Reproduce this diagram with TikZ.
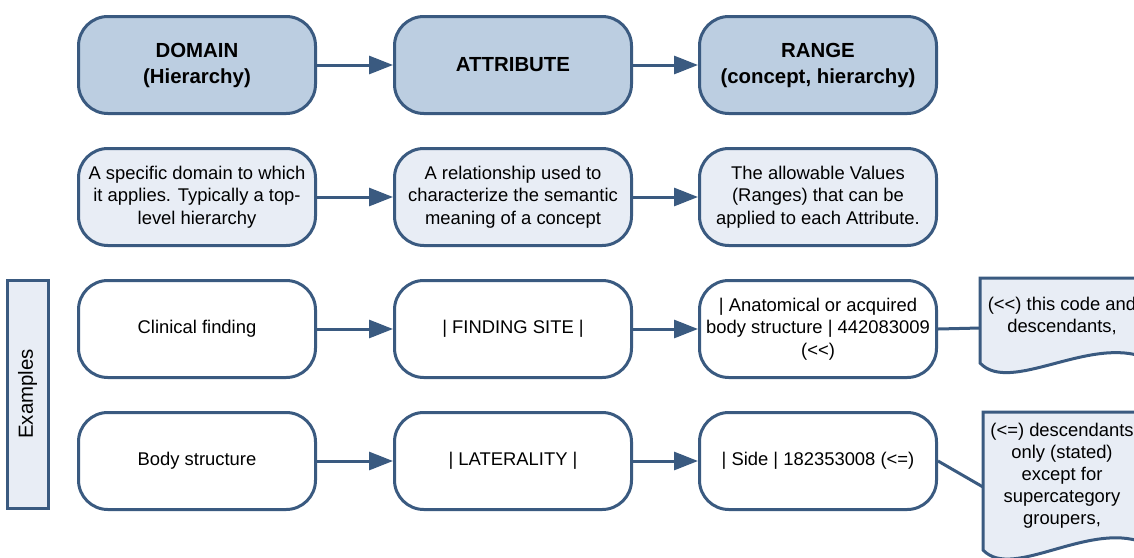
\documentclass[tikz,border=0pt]{standalone}
\usepackage{fontspec}
\setmainfont{Liberation Sans}
\usetikzlibrary{arrows.meta}
\definecolor{edge}{HTML}{3A5A80}
\definecolor{headfill}{HTML}{BCCEE1}
\definecolor{lightfill}{HTML}{E8EDF5}
\begin{document}
\begin{tikzpicture}[x=0.75pt,y=-0.75pt,
 box/.style={draw=edge, line width=2.25pt, rounded corners=22pt, minimum width=177.75pt, minimum height=72.75pt, align=center, font=\fontsize{13.8}{17}\selectfont, inner sep=2pt},
 head/.style={box, fill=headfill, font=\fontsize{15.3}{19.5}\selectfont\bfseries},
 desc/.style={box, fill=lightfill},
 ex/.style={box, fill=white},
 arr/.style={draw=edge, line width=2.25pt, -{Triangle[length=18pt,width=13.5pt]}},
 link/.style={draw=edge, line width=2.25pt},
 note/.style={draw=edge, line width=2.25pt, fill=lightfill},
 txt/.style={align=center, font=\fontsize{13.8}{16.5}\selectfont, inner sep=0pt}
]
\useasboundingbox (0,0) rectangle (1134,557);
\clip (0,0) rectangle (1134,557);

% row 1
\node[head] (d1) at (197,65) {DOMAIN\\(Hierarchy)};
\node[head] (a1) at (513,65) {ATTRIBUTE};
\node[head] (r1) at (818,65) {RANGE\\(concept, hierarchy)};
% row 2
\node[desc] (d2) at (197,197) {A specific domain to which\\it applies. Typically a top-\\level hierarchy};
\node[desc] (a2) at (513,197) {A relationship used to\\characterize the semantic\\meaning of a concept};
\node[desc] (r2) at (818,197) {The allowable Values\\(Ranges) that can be\\applied to each Attribute.};
% row 3
\node[ex] (d3) at (197,329) {Clinical finding};
\node[ex] (a3) at (513,329) {| FINDING SITE |};
\node[ex] (r3) at (818,329) {| Anatomical or acquired\\body structure | 442083009\\(<{}<)};
% row 4
\node[ex] (d4) at (197,461) {Body structure};
\node[ex] (a4) at (513,461) {| LATERALITY |};
\node[ex] (r4) at (818,461) {| Side | 182353008 (<=)};

% examples label
\node[draw=edge, line width=2.25pt, fill=lightfill, minimum width=30.75pt, minimum height=171pt, inner sep=0pt] (exbox) at (27.5,394) {};
\node[rotate=90, font=\fontsize{15.3}{18}\selectfont] (exlab) at (exbox.center) {Examples};

% arrows
\foreach \r in {1,2,3,4}{
  \draw[arr] (d\r) -- (a\r);
  \draw[arr] (a\r) -- (r\r);
}

% notes
\draw[note] (980,278) -- (1146,278) -- (1146,358) .. controls (1090,335) and (1010,395) .. (980,363) -- cycle;
\node[txt] (n1t) at (1062,316) {(<{}<) this code and\\descendants,};
\draw[note] (983,412) -- (1149,412) -- (1149,545) .. controls (1093,517) and (1013,582) .. (983,550) -- cycle;
\node[txt] (n2t) at (1062,476) {(<=) descendants\\only (stated)\\except for\\supercategory\\groupers,};

\coordinate (n1) at (980,328);
\coordinate (n2) at (983,487);
\draw[link] (r3.east) -- (n1);
\draw[link] (r4.east) -- (n2);
\end{tikzpicture}
\end{document}
